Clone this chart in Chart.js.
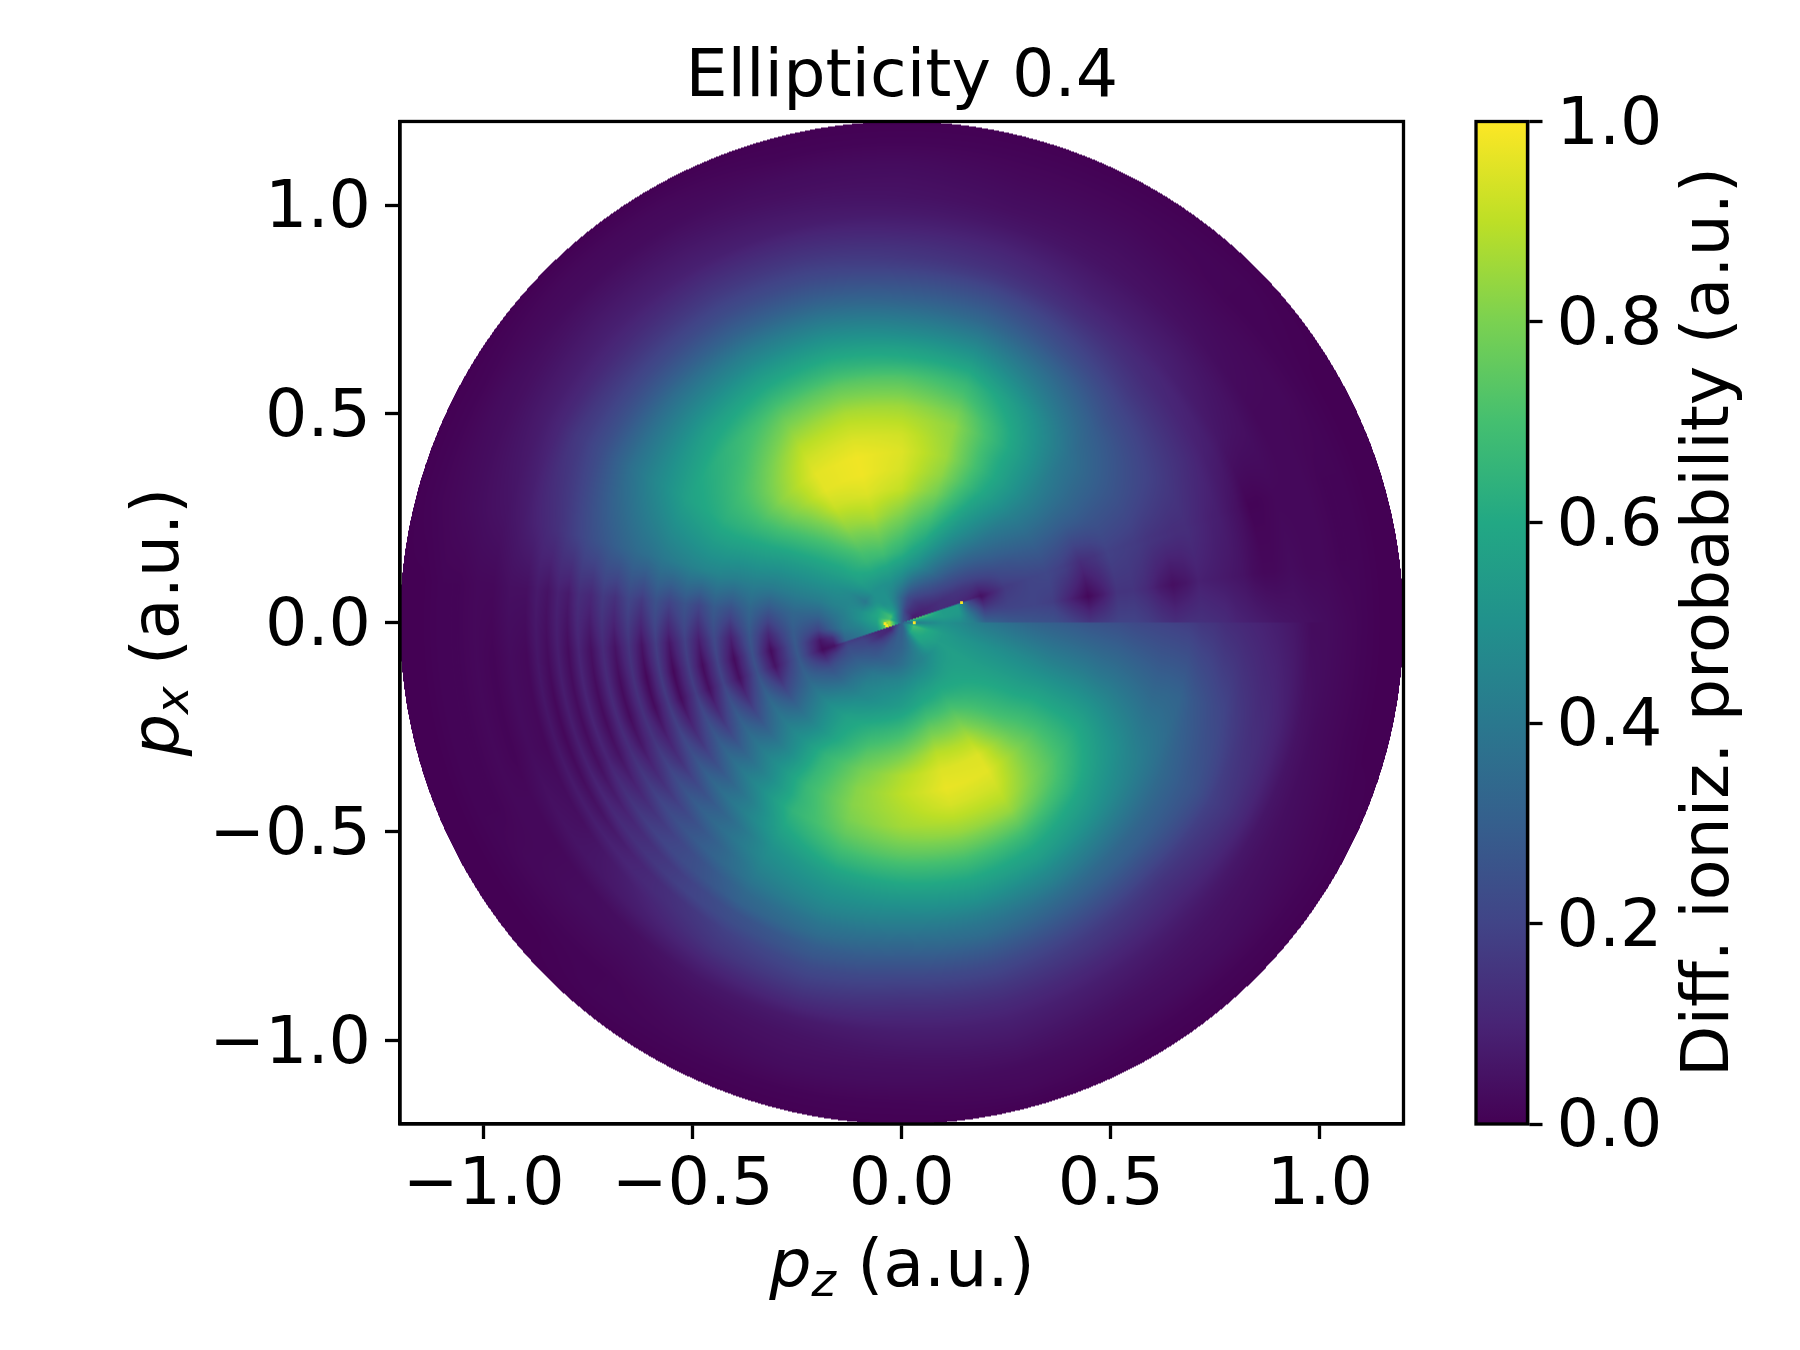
<!DOCTYPE html>
<html>
<head>
<meta charset="utf-8">
<title>Ellipticity 0.4</title>
<script src="https://cdn.jsdelivr.net/npm/chart.js@4"></script>
<style>
    html, body { margin: 0; padding: 0; background: #fff; }
    #wrap { position: relative; width: 1800px; height: 1350px; overflow: hidden; }
    canvas { position: absolute; top: 0; }
    #mapChart { left: 0; }
    #barChart { left: 1400px; }
</style>
</head>
<body>
<div id="wrap">
    <canvas id="mapChart" width="1800" height="1350"></canvas>
    <canvas id="barChart" width="400" height="1350"></canvas>
</div>
<script>
const titleText = 'Ellipticity 0.4';
const barLabel = 'Diff. ioniz. probability (a.u.)';
const axisTicks = [-1, -0.5, 0, 0.5, 1];
const barTicks = [0, 0.2, 0.4, 0.6, 0.8, 1];

// viridis
const colorStops = [0, 0.1, 0.2, 0.3, 0.4, 0.5, 0.6, 0.7, 0.8, 0.9, 1];
const colorHex = ['#440154', '#482475', '#414487', '#355f8d', '#2a788e', '#21918c', '#22a884', '#44bf70', '#7ad151', '#bddf26', '#fde725'];

// polar grid: one row per radius, one column per angle
const radii = [0, .03, .06, .10, .14, .17, .20, .26, .32, .365, .41, .45, .487, .52, .558, .59, .624, .655, .688, .717, .746, .775, .80, .825, .85, .875, .90, .94, .98, 1.02, 1.06, 1.10, 1.15, 1.2];
const anglesDeg = [0, 8, 18, 19, 30, 45, 60, 75, 90, 105, 120, 135, 150, 165, 175, 185, 192, 198, 199, 205, 212, 220, 230, 240, 255, 270, 285, 300, 315, 330, 345, 360];
const probability = [
    [.3,.3,.3,.3,.3,.3,.3,.3,.3,.3,.3,.3,.3,.3,.3,.3,.3,.3,.3,.3,.3,.3,.3,.3,.3,.3,.3,.3,.3,.3,.3,.3],
    [.4,.5,.75,.08,.08,.12,.15,.2,.3,.4,.5,.6,.7,.7,.9,.9,.9,.95,.12,.1,.1,.15,.2,.25,.3,.3,.35,.45,.6,.65,.7,.4],
    [.45,.55,.7,.1,.1,.13,.17,.22,.32,.42,.5,.5,.6,.6,.58,.55,.52,.5,.1,.12,.12,.17,.22,.27,.3,.32,.37,.45,.58,.6,.62,.45],
    [.5,.55,.55,.13,.13,.2,.27,.35,.45,.5,.5,.5,.4,.5,.5,.45,.42,.4,.17,.2,.22,.25,.27,.3,.33,.37,.42,.45,.5,.55,.55,.5],
    [.48,.53,.55,.12,.15,.25,.37,.48,.56,.6,.6,.57,.47,.45,.42,.4,.35,.32,.18,.23,.26,.3,.35,.4,.44,.46,.5,.52,.55,.56,.52,.47],
    [.44,.36,.2,.1,.16,.28,.41,.54,.64,.69,.67,.6,.5,.44,.37,.3,.14,.06,.05,.17,.25,.31,.38,.44,.48,.51,.56,.58,.58,.56,.51,.43],
    [.33,.2,.05,.05,.18,.31,.45,.6,.7,.75,.72,.62,.52,.42,.32,.2,.06,.03,.03,.13,.24,.31,.4,.46,.51,.55,.61,.63,.6,.56,.5,.4],
    [.28,.2,.17,.17,.24,.37,.52,.7,.81,.87,.83,.68,.54,.42,.33,.29,.28,.28,.28,.3,.34,.41,.5,.57,.63,.68,.76,.76,.66,.57,.48,.36],
    [.26,.2,.2,.2,.28,.41,.58,.79,.91,.95,.92,.75,.57,.41,.26,.11,.03,.05,.05,.14,.24,.35,.47,.59,.73,.8,.89,.88,.71,.58,.46,.32],
    [.25,.18,.21,.21,.3,.44,.62,.83,.94,.98,.96,.8,.6,.43,.33,.27,.25,.25,.25,.29,.35,.41,.51,.65,.79,.88,.95,.95,.75,.6,.44,.3],
    [.2,.09,.18,.18,.29,.45,.63,.85,.95,.98,.96,.82,.62,.43,.25,.09,.03,.04,.04,.12,.22,.34,.49,.66,.82,.9,.97,.96,.78,.6,.43,.28],
    [.16,.02,.12,.13,.28,.44,.62,.84,.93,.95,.93,.79,.63,.45,.29,.22,.2,.2,.2,.25,.31,.39,.51,.67,.82,.88,.94,.93,.77,.6,.42,.26],
    [.18,.08,.15,.15,.28,.42,.62,.83,.89,.91,.89,.75,.63,.45,.21,.08,.03,.04,.04,.11,.2,.33,.48,.65,.8,.86,.89,.89,.75,.59,.4,.25],
    [.2,.15,.19,.19,.27,.4,.6,.79,.85,.87,.84,.71,.61,.44,.26,.19,.18,.18,.18,.22,.28,.37,.49,.65,.76,.81,.84,.84,.71,.56,.39,.24],
    [.2,.15,.18,.18,.26,.38,.56,.72,.78,.8,.78,.67,.59,.42,.2,.06,.02,.03,.03,.09,.17,.28,.43,.6,.7,.74,.76,.75,.65,.52,.37,.22],
    [.18,.12,.17,.17,.25,.35,.52,.67,.72,.74,.72,.65,.57,.4,.25,.18,.17,.17,.17,.19,.24,.33,.43,.55,.64,.67,.69,.67,.59,.49,.35,.21],
    [.15,.07,.15,.15,.23,.32,.46,.6,.63,.66,.65,.6,.53,.37,.17,.05,.02,.03,.03,.08,.14,.24,.36,.5,.57,.6,.62,.6,.54,.45,.33,.2],
    [.13,.04,.14,.14,.21,.29,.41,.53,.57,.6,.59,.56,.49,.35,.21,.15,.14,.14,.14,.15,.2,.28,.37,.47,.52,.54,.56,.55,.49,.42,.33,.19],
    [.14,.06,.13,.13,.19,.25,.36,.46,.49,.53,.53,.5,.45,.32,.14,.05,.03,.03,.03,.06,.12,.2,.31,.43,.48,.48,.5,.48,.43,.38,.32,.18],
    [.14,.09,.13,.13,.17,.22,.31,.4,.43,.47,.47,.45,.41,.29,.17,.12,.12,.12,.12,.13,.17,.23,.31,.39,.44,.43,.44,.43,.38,.34,.28,.16],
    [.13,.08,.11,.11,.15,.19,.26,.34,.37,.41,.42,.4,.37,.26,.11,.04,.03,.03,.03,.05,.1,.17,.25,.34,.39,.38,.39,.37,.33,.31,.25,.15],
    [.12,.07,.09,.09,.13,.16,.22,.29,.31,.35,.36,.35,.32,.23,.13,.1,.1,.1,.1,.1,.14,.19,.24,.31,.35,.33,.35,.32,.3,.28,.22,.13],
    [.1,.06,.08,.08,.11,.14,.19,.25,.27,.3,.31,.3,.28,.2,.07,.03,.03,.03,.03,.04,.08,.13,.19,.25,.3,.29,.3,.28,.26,.26,.2,.12],
    [.09,.05,.06,.06,.09,.12,.16,.21,.23,.26,.27,.26,.24,.17,.09,.08,.08,.08,.08,.09,.11,.14,.19,.23,.27,.25,.26,.24,.22,.23,.17,.11],
    [.08,.03,.04,.04,.08,.11,.13,.17,.19,.22,.23,.22,.21,.14,.05,.03,.02,.02,.02,.03,.05,.09,.14,.19,.23,.21,.22,.2,.18,.19,.15,.1],
    [.07,.02,.01,.01,.06,.09,.11,.14,.16,.19,.2,.19,.18,.12,.07,.06,.06,.06,.06,.07,.08,.1,.13,.17,.2,.18,.19,.17,.15,.17,.13,.09],
    [.06,.02,.01,.01,.05,.08,.09,.12,.14,.16,.17,.16,.16,.1,.04,.02,.02,.02,.02,.03,.04,.07,.11,.15,.17,.15,.16,.15,.13,.15,.12,.08],
    [.05,.03,.02,.02,.04,.06,.07,.09,.1,.12,.13,.12,.11,.07,.04,.03,.03,.03,.03,.04,.05,.06,.08,.1,.12,.11,.12,.11,.1,.11,.09,.06],
    [.04,.02,.02,.02,.02,.04,.05,.06,.07,.08,.09,.09,.08,.05,.02,.01,.01,.01,.01,.02,.02,.03,.04,.06,.07,.08,.09,.08,.07,.06,.05,.03],
    [.03,.02,.02,.02,.02,.03,.04,.04,.05,.06,.07,.07,.06,.04,.02,.02,.02,.02,.02,.02,.02,.03,.03,.04,.05,.06,.07,.06,.05,.04,.03,.03],
    [.02,.01,.01,.01,.02,.02,.03,.03,.04,.04,.05,.05,.04,.03,.01,.01,.01,.01,.01,.01,.02,.02,.02,.03,.04,.04,.05,.04,.04,.03,.02,.02],
    [.01,.01,.01,.01,.01,.01,.02,.02,.03,.03,.03,.03,.03,.02,.01,.01,.01,.01,.01,.01,.01,.01,.01,.02,.03,.03,.03,.03,.03,.02,.01,.01],
    [0,0,0,0,0,.01,.01,.01,.01,.01,.02,.02,.01,.01,0,0,0,0,0,0,0,0,.01,.01,.01,.01,.02,.01,.01,.01,0,0],
    [0,0,0,0,0,0,0,0,0,0,0,0,0,0,0,0,0,0,0,0,0,0,0,0,0,0,0,0,0,0,0,0]
];

// stray bright pixels beside the centre
const hotX = [-0.036, -0.04, 0.03, 0.143];
const hotY = [-0.007, -0.002, 0.0, 0.048];

const fontFamily = '"DejaVu Sans", sans-serif';
const fontSize = 66.67;

function hexToRgb(hex) {
    return [1, 3, 5].map(i => parseInt(hex.slice(i, i + 2), 16));
}
const colorRgb = colorHex.map(hexToRgb);

function valueToRgb(v) {
    const t = Math.min(0.9999, Math.max(0, v)) * (colorStops.length - 1);
    const i = Math.floor(t);
    const f = t - i;
    return colorRgb[i].map((c, k) => c + (colorRgb[i + 1][k] - c) * f);
}

function findCell(list, v) {
    let i = 0;
    while (i < list.length - 2 && list[i + 1] <= v) i++;
    return i;
}

// value at (r, angle), blended between the four nearest grid nodes
function lookup(r, deg) {
    const i = findCell(radii, r);
    const j = findCell(anglesDeg, deg);
    const u = (r - radii[i]) / (radii[i + 1] - radii[i]);
    const w = (deg - anglesDeg[j]) / (anglesDeg[j + 1] - anglesDeg[j]);
    const a = probability[i][j] * (1 - w) + probability[i][j + 1] * w;
    const b = probability[i + 1][j] * (1 - w) + probability[i + 1][j + 1] * w;
    return a * (1 - u) + b * u;
}

const polarMap = {
    id: 'polarMap',
    beforeDatasetsDraw(chart) {
        const { x, y } = chart.scales;
        const area = chart.chartArea;
        const w = Math.round(area.right - area.left);
        const h = Math.round(area.bottom - area.top);
        const off = document.createElement('canvas');
        off.width = w;
        off.height = h;
        const offCtx = off.getContext('2d');
        const img = offCtx.createImageData(w, h);
        const rMax = radii[radii.length - 1];
        for (let py = 0; py < h; py++) {
            const pv = y.getValueForPixel(area.top + py + 0.5);
            for (let px = 0; px < w; px++) {
                const pu = x.getValueForPixel(area.left + px + 0.5);
                const r = Math.hypot(pu, pv);
                if (r > rMax) continue;
                let deg = Math.atan2(pv, pu) * 180 / Math.PI;
                if (deg < 0) deg += 360;
                const rgb = valueToRgb(lookup(r, deg));
                const k = (py * w + px) * 4;
                img.data[k] = rgb[0];
                img.data[k + 1] = rgb[1];
                img.data[k + 2] = rgb[2];
                img.data[k + 3] = 255;
            }
        }
        offCtx.putImageData(img, 0, 0);
        chart.ctx.drawImage(off, area.left, area.top);
    }
};

function drawFrame(chart) {
    const a = chart.chartArea;
    const ctx = chart.ctx;
    ctx.save();
    ctx.strokeStyle = '#000';
    ctx.lineWidth = 3.3;
    ctx.strokeRect(a.left, a.top, a.right - a.left, a.bottom - a.top);
    ctx.restore();
}

// label with an italic p and a subscript, matplotlib mathtext style
function drawMathLabel(ctx, cx, cy, rot, sub) {
    const parts = [
        { text: 'p', font: `italic ${fontSize}px ${fontFamily}`, dy: 0 },
        { text: sub, font: `italic ${fontSize * 0.7}px ${fontFamily}`, dy: fontSize * 0.15 },
        { text: ' (a.u.)', font: `${fontSize}px ${fontFamily}`, dy: 0 }
    ];
    ctx.save();
    ctx.translate(cx, cy);
    ctx.rotate(rot);
    ctx.fillStyle = '#000';
    ctx.textBaseline = 'alphabetic';
    ctx.textAlign = 'left';
    let total = 0;
    parts.forEach(p => { ctx.font = p.font; total += ctx.measureText(p.text).width; });
    let at = -total / 2;
    parts.forEach(p => {
        ctx.font = p.font;
        ctx.fillText(p.text, at, p.dy);
        at += ctx.measureText(p.text).width;
    });
    ctx.restore();
}

const mapDecor = {
    id: 'mapDecor',
    afterDraw(chart) {
        drawFrame(chart);
        drawMathLabel(chart.ctx, 902, 1286, 0, 'z');
        drawMathLabel(chart.ctx, 178, 622, -Math.PI / 2, 'x');
    }
};

const barDecor = {
    id: 'barDecor',
    afterDraw(chart) {
        drawFrame(chart);
        const ctx = chart.ctx;
        ctx.save();
        ctx.translate(328, 622);
        ctx.rotate(-Math.PI / 2);
        ctx.fillStyle = '#000';
        ctx.font = `${fontSize}px ${fontFamily}`;
        ctx.textAlign = 'center';
        ctx.textBaseline = 'alphabetic';
        ctx.fillText(barLabel, 0, 0);
        ctx.restore();
    }
};

function tickText(v) {
    return Number(v).toFixed(1).replace('-', '\u2212');
}

function axisOptions(ticks, fixedSize, padding, labelOffset) {
    return {
        type: 'linear',
        grid: { display: true, drawOnChartArea: false, drawTicks: true, tickLength: 15, tickWidth: 3.3, tickColor: '#000' },
        border: { display: true, color: '#000', width: 3.3 },
        ticks: {
            color: '#000',
            font: { family: fontFamily, size: fontSize },
            padding: padding,
            labelOffset: labelOffset,
            autoSkip: false,
            maxRotation: 0,
            callback: tickText
        },
        afterBuildTicks(scale) {
            scale.ticks = ticks.map(v => ({ value: v }));
        },
        afterFit(scale) {
            if (scale.isHorizontal()) scale.height = fixedSize;
            else scale.width = fixedSize;
        }
    };
}

// grid nodes as a dataset, so the values go through the chart's own data
const gridPoints = [];
radii.forEach((r, i) => {
    anglesDeg.forEach((deg, j) => {
        gridPoints.push({
            x: r * Math.cos(deg * Math.PI / 180),
            y: r * Math.sin(deg * Math.PI / 180),
            v: probability[i][j]
        });
    });
});

new Chart(document.getElementById('mapChart'), {
    type: 'scatter',
    data: {
        datasets: [
            { label: 'Diff. ioniz. probability', data: gridPoints, pointRadius: 0 },
            {
                label: 'bright pixels',
                data: hotX.map((v, i) => ({ x: v, y: hotY[i] })),
                pointStyle: 'rect',
                pointRadius: 2,
                borderWidth: 0,
                backgroundColor: '#fde725'
            }
        ]
    },
    options: {
        responsive: false,
        animation: false,
        devicePixelRatio: 1,
        events: [],
        layout: { padding: { left: 0, right: 396.5, top: 0, bottom: 0 } },
        plugins: {
            legend: { display: false },
            tooltip: { enabled: false },
            title: {
                display: true,
                text: titleText,
                color: '#000',
                fullSize: false,
                font: { family: fontFamily, size: fontSize, weight: 'normal', lineHeight: 1 },
                padding: { top: 45.6, bottom: 9.2 }
            }
        },
        scales: {
            x: Object.assign(axisOptions(axisTicks, 226, 8, 0), { min: -1.2, max: 1.2 }),
            y: Object.assign(axisOptions(axisTicks, 400, 14, 5), { min: -1.2, max: 1.2 })
        }
    },
    plugins: [polarMap, mapDecor]
});

new Chart(document.getElementById('barChart'), {
    type: 'bar',
    data: {
        labels: ['probability'],
        datasets: [{
            data: [[0, 1]],
            barPercentage: 1,
            categoryPercentage: 1,
            borderWidth: 0,
            backgroundColor(context) {
                const area = context.chart.chartArea;
                if (!area) return colorHex[0];
                const g = context.chart.ctx.createLinearGradient(0, area.bottom, 0, area.top);
                colorStops.forEach((s, i) => g.addColorStop(s, colorHex[i]));
                return g;
            }
        }]
    },
    options: {
        responsive: false,
        animation: false,
        devicePixelRatio: 1,
        events: [],
        layout: { padding: { left: 76, right: 0, top: 121.5, bottom: 226 } },
        plugins: { legend: { display: false }, tooltip: { enabled: false }, title: { display: false } },
        scales: {
            x: { display: false },
            y: Object.assign(axisOptions(barTicks, 272.5, 14, 5), { min: 0, max: 1, position: 'right' })
        }
    },
    plugins: [barDecor]
});
</script>
</body>
</html>
